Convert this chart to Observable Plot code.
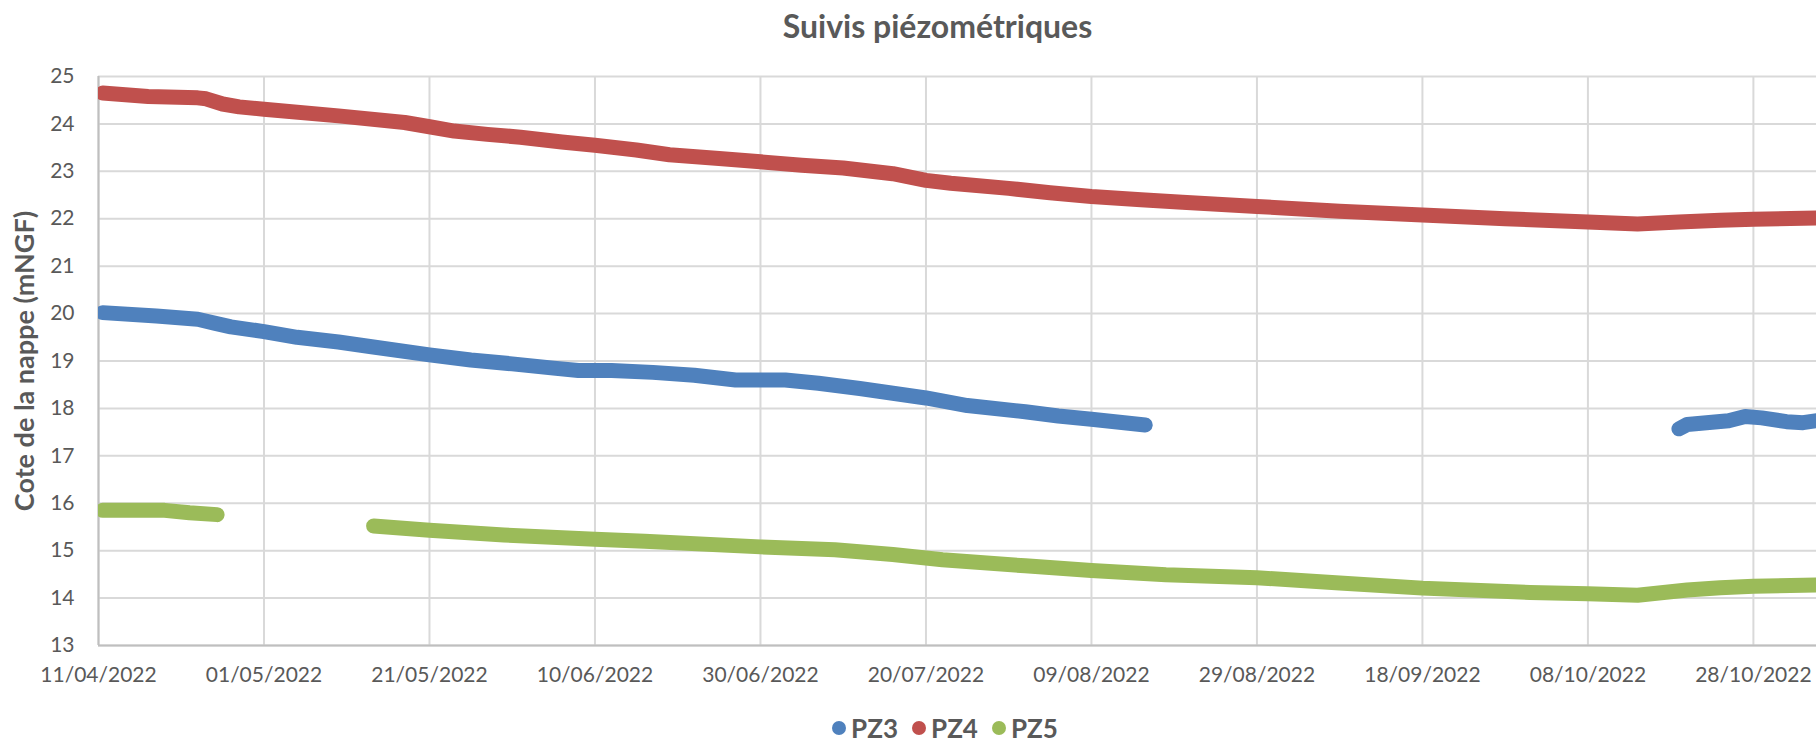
<!DOCTYPE html>
<html>
<head>
<meta charset="utf-8">
<script src="https://cdn.jsdelivr.net/npm/d3@7"></script>
<script src="https://cdn.jsdelivr.net/npm/@observablehq/plot@0.6"></script>
<style>
  html, body { margin: 0; padding: 0; background: #fff; }
  #wrap { position: relative; width: 1816px; height: 744px; overflow: hidden; font-family: Lato, "Open Sans", sans-serif; color: #595959; }
  #chart { position: absolute; left: 0; top: 0; }
  #legend { position: absolute; top: 712px; left: 0; width: 1816px; display: flex; justify-content: center; gap: 0; font-size: 26px; font-weight: bold; color: #595959; padding-left: 74px; box-sizing: border-box; }
  .item { display: flex; align-items: center; margin: 0 7px; }
  .sw { width: 14px; height: 14px; border-radius: 50%; display: inline-block; margin-right: 5px; }
</style>
</head>
<body>
<div id="wrap">
  <div id="chart"></div>
  <div id="legend"></div>
</div>
<script>
// ---- Data ----
const title = "Suivis piézométriques";
const yLabel = "Cote de la nappe (mNGF)";
const seriesNames = ["PZ3", "PZ4", "PZ5"];
const seriesColors = ["#4F81BD", "#C0504D", "#9BBB59"];

const xTickDates = ["2022-04-11","2022-05-01","2022-05-21","2022-06-10","2022-06-30","2022-07-20","2022-08-09","2022-08-29","2022-09-18","2022-10-08","2022-10-28"];
const yTicks = [13,14,15,16,17,18,19,20,21,22,23,24,25];

// PZ3 (null = gap in record)
const pz3Dates = ["2022-04-11T12:00","2022-04-18","2022-04-23","2022-04-25","2022-04-27","2022-05-01","2022-05-05","2022-05-10","2022-05-14","2022-05-21","2022-05-26","2022-05-31","2022-06-05","2022-06-08","2022-06-12","2022-06-17","2022-06-22","2022-06-27","2022-07-03","2022-07-07","2022-07-12","2022-07-16","2022-07-20","2022-07-25","2022-08-01","2022-08-05","2022-08-09","2022-08-15T12:00","2022-09-15","2022-10-19","2022-10-20","2022-10-23","2022-10-25","2022-10-27","2022-10-29","2022-11-01","2022-11-03","2022-11-05"];
const pz3Values = [20.02,19.95,19.88,19.8,19.72,19.62,19.5,19.4,19.3,19.13,19.02,18.94,18.85,18.8,18.8,18.76,18.7,18.6,18.6,18.53,18.42,18.32,18.22,18.06,17.93,17.84,17.77,17.65,null,17.57,17.66,17.71,17.74,17.83,17.8,17.72,17.7,17.75];

// PZ4
const pz4Dates = ["2022-04-11T12:00","2022-04-17","2022-04-23","2022-04-24","2022-04-26","2022-04-28","2022-05-01","2022-05-10","2022-05-18","2022-05-21","2022-05-24","2022-05-28","2022-06-01","2022-06-06","2022-06-10","2022-06-15","2022-06-19","2022-06-25","2022-06-30","2022-07-05","2022-07-10","2022-07-16","2022-07-20","2022-07-23","2022-07-30","2022-08-04","2022-08-09","2022-08-15","2022-08-20","2022-08-29","2022-09-08","2022-09-18","2022-09-28","2022-10-08","2022-10-14","2022-10-19","2022-10-24","2022-10-28","2022-11-05"];
const pz4Values = [24.65,24.58,24.55,24.53,24.42,24.36,24.31,24.17,24.03,23.94,23.85,23.78,23.72,23.62,23.55,23.45,23.35,23.27,23.2,23.13,23.07,22.95,22.81,22.75,22.64,22.55,22.47,22.4,22.35,22.26,22.16,22.08,22.0,21.93,21.89,21.93,21.97,21.99,22.02];

// PZ5 (null = gap in record)
const pz5Dates = ["2022-04-11T12:00","2022-04-19","2022-04-22","2022-04-25T08:00","2022-05-01","2022-05-14T06:00","2022-05-21","2022-05-30","2022-06-10","2022-06-16","2022-06-30","2022-07-09","2022-07-16","2022-07-22","2022-08-01","2022-08-09","2022-08-18","2022-08-29","2022-09-08","2022-09-18","2022-10-01","2022-10-08","2022-10-14","2022-10-20","2022-10-24","2022-10-28","2022-11-05"];
const pz5Values = [15.85,15.85,15.8,15.76,null,15.52,15.43,15.33,15.24,15.2,15.08,15.02,14.92,14.81,14.68,14.58,14.49,14.43,14.32,14.21,14.12,14.09,14.06,14.17,14.22,14.25,14.28];

// ---- Build table ----
const parse = s => new Date(s.length === 10 ? s + "T00:00Z" : s + "Z");
const allDates = [pz3Dates, pz4Dates, pz5Dates];
const allValues = [pz3Values, pz4Values, pz5Values];
const rows = [];
seriesNames.forEach((name, i) => {
  allDates[i].forEach((d, j) => rows.push({series: name, date: parse(d), value: allValues[i][j] == null ? NaN : allValues[i][j]}));
});
const xTicks = xTickDates.map(parse);
const xStart = parse("2022-04-11");
const xEnd = new Date(Date.UTC(2022, 10, 4, 15));

const plot = Plot.plot({
  width: 1816,
  height: 744,
  marginTop: 76,
  marginBottom: 99,
  marginLeft: 98,
  marginRight: 0,
  style: {fontFamily: "Lato, 'Open Sans', sans-serif", fontSize: "21px", color: "#595959", background: "white", overflow: "visible"},
  x: {type: "utc", domain: [xStart, xEnd], ticks: xTicks, tickFormat: d3.utcFormat("%d/%m/%Y"), tickSize: 0, tickPadding: 22, label: null},
  y: {domain: [13, 25], ticks: yTicks, tickSize: 0, tickPadding: 24, label: null},
  color: {domain: seriesNames, range: seriesColors},
  marks: [
    Plot.ruleY(yTicks, {y: d => d, stroke: "#D9D9D9", strokeWidth: 2}),
    Plot.ruleX(xTicks, {x: d => d, stroke: "#D9D9D9", strokeWidth: 2}),
    Plot.ruleY([13], {stroke: "#BFBFBF", strokeWidth: 2}),
    Plot.ruleX([xStart], {stroke: "#BFBFBF", strokeWidth: 2}),
    Plot.line(rows, {x: "date", y: "value", z: "series", stroke: "series", strokeWidth: 15, strokeLinecap: "round", strokeLinejoin: "round", clip: true}),
    Plot.text([title], {frameAnchor: "top", dx: -20, dy: -61, fontSize: 32, fontWeight: "bold", fill: "#595959"}),
    Plot.text([yLabel], {frameAnchor: "left", dx: -73, rotate: -90, textAnchor: "middle", fontSize: 27, fontWeight: "bold", fill: "#595959"})
  ]
});
document.getElementById("chart").appendChild(plot);

const legend = document.getElementById("legend");
seriesNames.forEach((name, i) => {
  const item = document.createElement("span");
  item.className = "item";
  const sw = document.createElement("span");
  sw.className = "sw";
  sw.style.background = seriesColors[i];
  item.appendChild(sw);
  item.appendChild(document.createTextNode(name));
  legend.appendChild(item);
});
</script>
</body>
</html>
